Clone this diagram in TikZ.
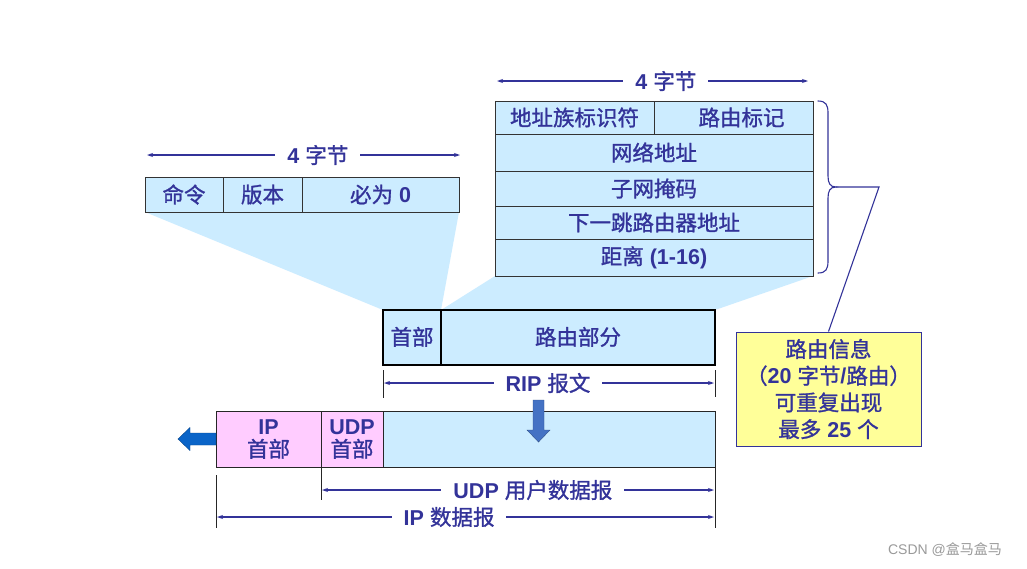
\documentclass[tikz,border=0pt]{standalone}
\usepackage{fontspec}
\setmainfont{Liberation Sans}
\newfontfamily\cjk[FakeBold=1.2]{Noto Sans CJK SC}
\newfontfamily\cjkplain{Noto Sans CJK SC}
\usetikzlibrary{arrows.meta,decorations.pathreplacing}
\definecolor{navy}{HTML}{333399}
\definecolor{lightblue}{HTML}{CCECFF}
\definecolor{pinkfill}{HTML}{FFCCFF}
\definecolor{notefill}{HTML}{FFFF99}
\definecolor{leftblue}{HTML}{0A64C8}
\definecolor{downblue}{HTML}{4472C4}
\definecolor{wmgray}{HTML}{9A9A9A}
\newcommand\zh[1]{{\cjk\mdseries #1}}
\begin{document}
\begin{tikzpicture}[x=1pt,y=-1pt,
  font=\fontsize{21.5}{26}\selectfont\bfseries, text=navy,
  cell/.style={draw=black!80, line width=0.8pt, fill=lightblue, inner sep=0pt},
  pcell/.style={draw=black!85, line width=0.8pt, fill=pinkfill, inner sep=0pt, align=center},
  ripcell/.style={draw=black, line width=1.6pt, fill=lightblue, inner sep=0pt},
  dim/.style={draw=navy, line width=1.3pt, {Stealth[length=6pt,width=4pt]}-{Stealth[length=6pt,width=4pt]}},
  tickline/.style={draw=black!85, line width=0.8pt},
  lbl/.style={fill=white, inner xsep=12pt, inner ysep=2pt},
  fan/.style={fill=lightblue, draw=none}]
\useasboundingbox (0,0) rectangle (1027,568);
\fill[white] (0,0) rectangle (1027,568);

% projection fans
\fill[fan] (145,212) -- (459,212) -- (441,310) -- (383,310) -- cycle;
\fill[fan] (495,276) -- (813,276) -- (715,310) -- (441,310) -- cycle;

% RIP header table
\node[cell, minimum width=78pt, minimum height=35pt] (cmd) at (184,194.5) {\zh{命令}};
\node[cell, minimum width=79pt, minimum height=35pt] (ver) at (262.5,194.5) {\zh{版本}};
\node[cell, minimum width=157pt, minimum height=35pt] (zero) at (380.5,194.5) {\zh{必为} 0};

% route entry table
\node[cell, minimum width=159pt, minimum height=33pt] (afi) at (574.5,117.5) {\zh{地址族标识符}};
\node[cell, minimum width=159pt, minimum height=33pt] (tag) at (733.5,117.5) {\hspace*{16pt}\zh{路由标记}};
\node[cell, minimum width=318pt, minimum height=37pt] (net) at (654,152.5) {\zh{网络地址}};
\node[cell, minimum width=318pt, minimum height=35pt] (mask) at (654,188.5) {\zh{子网掩码}};
\node[cell, minimum width=318pt, minimum height=33pt] (nh) at (654,222.5) {\zh{下一跳路由器地址}};
\node[cell, minimum width=318pt, minimum height=37pt] (metric) at (654,257.5) {\zh{距离} (1-16)};

% RIP message
\node[ripcell, minimum width=58pt, minimum height=55pt] (riphdr) at (412,337.5) {\raisebox{3pt}{\zh{首部}}};
\node[ripcell, minimum width=274pt, minimum height=55pt] (riproute) at (578,337.5) {\raisebox{3pt}{\zh{路由部分}}};

% IP datagram
\node[pcell, minimum width=105pt, minimum height=56pt] (iphdr) at (268.5,439) {IP\\[-3pt]\zh{首部}};
\node[pcell, minimum width=62pt, minimum height=56pt] (udphdr) at (352,439) {UDP\\[-3pt]\zh{首部}};
\node[cell, draw=black!85, minimum width=332pt, minimum height=56pt] (data) at (549,439) {};

% dimension lines: 4 bytes
\coordinate (tl1) at (147,155); \coordinate (tl2) at (460,155);
\draw[dim] (tl1) -- node[lbl, pos=0.546] (tlab) {4 \zh{字节}} (tl2);
\coordinate (tr1) at (497,81); \coordinate (tr2) at (808,81);
\draw[dim] (tr1) -- node[lbl, pos=0.543] (trlab) {4 \zh{字节}} (tr2);

% RIP message span
\coordinate (rt1) at (383,370); \coordinate (rb1) at (383,398);
\coordinate (rt2) at (715,370); \coordinate (rb2) at (715,397);
\draw[tickline] (rt1) -- (rb1);
\draw[tickline] (rt2) -- (rb2);
\coordinate (ra1) at (384,383); \coordinate (ra2) at (714,383);
\draw[dim] (ra1) -- node[lbl, pos=0.497] (riplab) {RIP \zh{报文}} (ra2);

% UDP / IP spans
\coordinate (it1) at (216,475); \coordinate (ib1) at (216,528);
\coordinate (ut1) at (321,467); \coordinate (ub1) at (321,500);
\coordinate (et1) at (715,467); \coordinate (eb1) at (715,528);
\draw[tickline] (it1) -- (ib1);
\draw[tickline] (ut1) -- (ub1);
\draw[tickline] (et1) -- (eb1);
\coordinate (ua1) at (322,490); \coordinate (ua2) at (714,490);
\draw[dim] (ua1) -- node[lbl, pos=0.538] (udplab) {UDP \zh{用户数据报}} (ua2);
\coordinate (ia1) at (217,517); \coordinate (ia2) at (714,517);
\draw[dim] (ia1) -- node[lbl, pos=0.467] (iplab) {IP \zh{数据报}} (ia2);

% block arrows
\fill[leftblue, draw=leftblue!70!black, line width=0.4pt]
  (216,433) -- (190,433) -- (190,427.5) -- (178,439) -- (190,450.5) -- (190,445) -- (216,445) -- cycle;
\fill[downblue, draw=downblue!70!black, line width=0.4pt]
  (533,400) -- (544,400) -- (544,430) -- (550,430) -- (538.5,442) -- (527,430) -- (533,430) -- cycle;

% note box
\node[draw=navy, line width=0.9pt, fill=notefill, minimum width=185pt, minimum height=114pt,
  align=center, inner sep=0pt, font=\fontsize{21.5}{26.7}\selectfont\bfseries] (note) at (828.5,389)
  {\zh{路由信息}\\\zh{（}20 \zh{字节}/\zh{路由）}\\\zh{可重复出现}\\\zh{最多} 25 \zh{个}};

% brace and pointer
\draw[navy, line width=1.1pt, line cap=round]
  (818,101) .. controls (826,101) and (828,105) .. (828,113)
  -- (828,176) .. controls (828,183) and (830,187) .. (836,187)
  .. controls (830,187) and (828,191) .. (828,198)
  -- (828,261) .. controls (828,269) and (826,273) .. (818,273);
\coordinate (bt) at (836,187);
\coordinate (bk) at (879,187);
\draw[navy, line width=1.1pt] (bt) -- (bk) -- (note.north);

% watermark
\node[text=wmgray, font=\fontsize{14}{16}\selectfont\mdseries] (wm) at (945,550) {CSDN @{\cjkplain 盒马盒马}};
\end{tikzpicture}
\end{document}
